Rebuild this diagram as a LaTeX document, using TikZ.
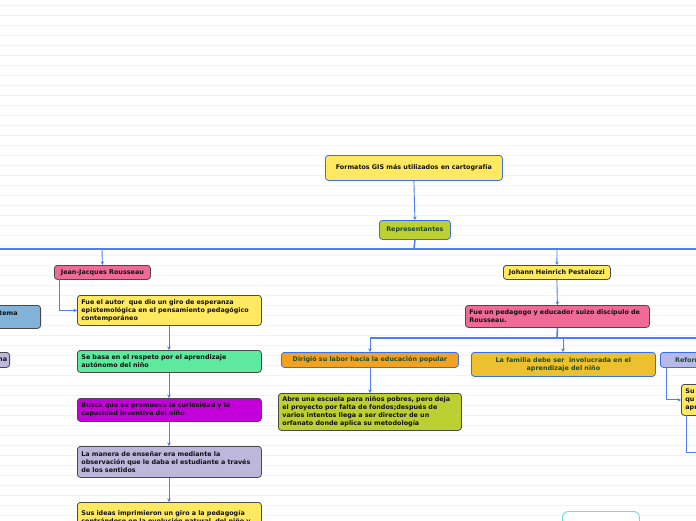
\documentclass[tikz,border=0pt]{standalone}
\usepackage{fontspec}
\setmainfont{DejaVu Sans}
\usetikzlibrary{arrows.meta}
\definecolor{bordblue}{HTML}{3C6EE8}
\definecolor{linkblue}{HTML}{4D7EF5}
\definecolor{borddark}{HTML}{4A4A4A}
\definecolor{cyellow}{HTML}{FFE960}
\definecolor{colive}{HTML}{BDD032}
\definecolor{cpink}{HTML}{F06A98}
\definecolor{cgreen}{HTML}{5EEA9E}
\definecolor{cmagenta}{HTML}{C400DA}
\definecolor{clav}{HTML}{BDB7DC}
\definecolor{cblue}{HTML}{82B2D8}
\definecolor{corange}{HTML}{F2A223}
\definecolor{cgold}{HTML}{EDC030}
\definecolor{cref}{HTML}{B7B9E8}
\definecolor{txtgreen}{HTML}{1F4A2C}
\definecolor{txtdark}{HTML}{111111}
\definecolor{ccyan}{HTML}{6ADCDC}
\definecolor{rule}{HTML}{F3F3F3}
\tikzset{
  box/.style={rectangle, rounded corners=3pt, line width=0.8pt, anchor=north west,
    inner xsep=4pt, inner ysep=1pt, align=left, text=txtdark,
    font=\fontsize{6.4}{8}\selectfont\bfseries},
  bb/.style={box, draw=bordblue},
  bd/.style={box, draw=borddark},
  link/.style={draw=linkblue, line width=0.9pt},
  arr/.style={link, -{Stealth[length=3.5pt,width=3.5pt]}},
  trunk/.style={draw=linkblue, line width=1.5pt}
}
\begin{document}
\begin{tikzpicture}[x=1pt,y=-1pt]
\clip (0,0) rectangle (696,520);
\fill[white] (0,0) rectangle (696,520);
\foreach \yy in {5,15,...,515} {\draw[rule, line width=0.8pt] (0,\yy) -- (696,\yy);}

% top
\node[bb, fill=cyellow, minimum width=177pt, minimum height=25pt, align=center] (title) at (325,155)
  {Formatos GIS más utilizados en cartografía};
\node[bb, fill=colive, minimum width=71pt, minimum height=19pt, align=center, text=txtgreen] (rep) at (379,220)
  {Representantes};
\draw[arr] (title.south) -- (rep.north);

% trunk 1
\coordinate (t1) at (414,249);
\draw[trunk] (0,249) -- (696,249);
\draw[trunk] (rep.south) -- (t1);

\node[bd, fill=cpink, minimum width=96pt, minimum height=14pt] (rous) at (54,265) {Jean-Jacques Rousseau};
\node[bd, fill=cyellow, minimum width=107pt, minimum height=14pt] (pest) at (503,265) {Johann Heinrich Pestalozzi};
\coordinate (r0) at (102,249);
\coordinate (p0) at (557,249);
\draw[arr] (r0) -- (rous.north);
\draw[arr] (p0) -- (pest.north);

% Rousseau chain
\node[bd, fill=cyellow, minimum width=184pt, minimum height=30pt, text width=176pt] (r1) at (77,295)
  {Fue el autor \ que dio un giro de esperanza\\epistemológica en el pensamiento pedagógico\\contemporáneo};
\coordinate (rc) at (59,279);
\draw[arr] (rc) |- (r1.west);
\node[bd, fill=cgreen, minimum width=184pt, minimum height=22pt, text width=176pt] (r2) at (77,350)
  {Se basa en el respeto por el aprendizaje\\autónomo del niño};
\node[bd, fill=cmagenta, minimum width=184pt, minimum height=23pt, text width=176pt] (r3) at (77,398)
  {Busca que se promueva la curiosidad y la\\capacidad inventiva del niño};
\node[bd, fill=clav, minimum width=184pt, minimum height=31pt, text width=176pt] (r4) at (77,446)
  {La manera de enseñar era mediante la\\observación que le daba el estudiante a través\\de los sentidos};
\node[bd, fill=cyellow, minimum width=184pt, minimum height=31pt, text width=176pt, anchor=north west, inner ysep=4pt] (r5) at (77,502)
  {Sus ideas imprimieron un giro a la pedagogía\\centrándose en la evolución natural \ del niño y};
\draw[arr] (r1.south -| 169,0) -- (r2.north -| 169,0);
\draw[arr] (r2.south -| 169,0) -- (r3.north -| 169,0);
\draw[arr] (r3.south -| 169,0) -- (r4.north -| 169,0);
\draw[arr] (r4.south -| 169,0) -- (r5.north -| 169,0);

% left partial nodes
\node[bd, fill=cblue, minimum width=80pt, minimum height=23pt, anchor=north east] (lb) at (41,305) {};
\node[anchor=west, inner sep=0pt, font=\fontsize{6.4}{8}\selectfont\bfseries, text=txtdark] (lbt) at (-1,313) {tema};
\node[bd, fill=clav, minimum width=40pt, minimum height=15pt, anchor=north east] (ll) at (10,352) {};
\node[anchor=west, inner sep=0pt, font=\fontsize{6.4}{8}\selectfont\bfseries, text=txtdark] (llt) at (-2,359.5) {na};

% Pestalozzi
\node[bd, fill=cpink, minimum width=184pt, minimum height=22pt, text width=176pt] (p1) at (465,305)
  {Fue un pedagogo y educador suizo discípulo de\\Rousseau.};
\draw[arr] (pest.south) -- (p1.north);
\coordinate (t2) at (557,338);
\draw[trunk] (370,338) -- (696,338);
\draw[trunk] (p1.south) -- (t2);

\node[bb, fill=corange, minimum width=177pt, minimum height=15pt, text=txtgreen, align=center] (d1) at (281,352)
  {Dirigió su labor hacia la educación popular};
\node[bb, fill=cgold, minimum width=184pt, minimum height=24pt, text=txtgreen, align=center] (d2) at (471,352)
  {La familia debe ser \ involucrada en el\\aprendizaje del niño};
\node[bb, fill=cref, minimum width=60pt, minimum height=15pt, text=txtgreen, inner xsep=3pt] (d3) at (660,352) {Reforma};
\draw[arr] (370,338) -- (d1.north -| 370,0);
\draw[arr] (563,338) -- (d2.north -| 563,0);

\node[bd, fill=colive, minimum width=183pt, minimum height=37pt, text width=175pt] (e1) at (278,393)
  {Abre una escuela para niños pobres, pero deja\\el proyecto por falta de fondos;después de\\varios intentos llega a ser director de un\\orfanato donde aplica su metodología};
\draw[arr] (d1.south -| 370,0) -- (e1.north -| 370,0);

\node[bd, fill=cyellow, minimum width=40pt, minimum height=31pt, text width=32pt] (e3) at (681,384)
  {Su\\qu\\apr};
\coordinate (rc2) at (666,367);
\draw[arr] (rc2) |- (e3.west);
\coordinate (ec) at (686,415);
\coordinate (ee) at (700,452);
\draw[link] (ec) |- (ee);

% bottom floating node
\node[draw=ccyan, line width=0.9pt, rounded corners=6pt, fill=white, minimum width=77pt, minimum height=22pt, anchor=north west] (fl) at (562,511) {};
\end{tikzpicture}
\end{document}
